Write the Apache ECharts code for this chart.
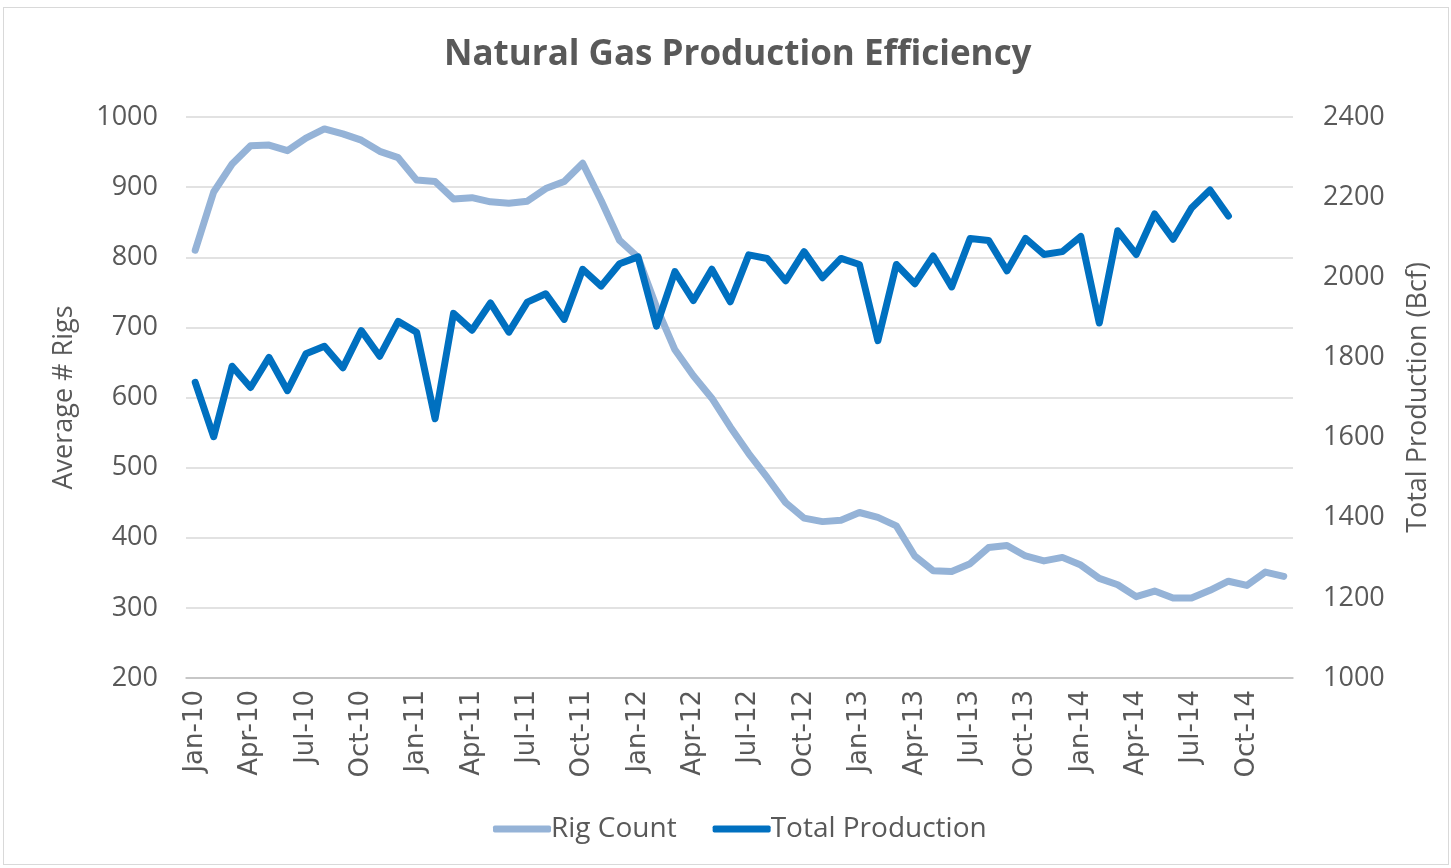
<!DOCTYPE html>
<html>
<head>
<meta charset="utf-8">
<title>Natural Gas Production Efficiency</title>
<script src="https://cdn.jsdelivr.net/npm/echarts@6/dist/echarts.min.js"></script>
<style>
  html, body { margin: 0; padding: 0; background: #fff; }
  #main { position: absolute; left: 3px; top: 7px; width: 1446px; height: 858px; border: 1px solid #d9d9d9; box-sizing: border-box; }
</style>
</head>
<body>
<div id="main"></div>
<script>
// months Jan-10 .. Dec-14
const months = []
const monthNames = ['Jan', 'Feb', 'Mar', 'Apr', 'May', 'Jun', 'Jul', 'Aug', 'Sep', 'Oct', 'Nov', 'Dec']
for (let y = 10; y <= 14; y++) {
  for (let m = 0; m < 12; m++) {
    months.push(monthNames[m] + '-' + y)
  }
}

const rigCount = [
  810, 893, 933, 959, 960, 952, 970, 983, 976, 967, 951, 942,
  910, 908, 883, 885, 879, 877, 880, 898, 908, 934, 881, 824,
  800, 729, 668, 631, 599, 558, 520, 486, 450, 428, 423, 425,
  436, 429, 417, 374, 353, 352, 363, 386, 389, 374, 367, 372,
  361, 342, 333, 316, 324, 314, 314, 325, 338, 332, 351, 345
]

const totalProduction = [
  1738, 1602, 1778, 1725, 1800, 1717, 1809, 1828, 1774, 1867, 1803, 1890,
  1863, 1647, 1910, 1868, 1936, 1863, 1938, 1959, 1895, 2020, 1978, 2034,
  2051, 1878, 2014, 1942, 2020, 1939, 2056, 2047, 1991, 2064, 1999, 2047,
  2032, 1842, 2032, 1984, 2053, 1976, 2097, 2092, 2016, 2097, 2057, 2064,
  2102, 1886, 2116, 2057, 2158, 2095, 2173, 2218, 2153
]

const textColor = '#595959'
const font = '"Open Sans", sans-serif'

const chart = echarts.init(document.getElementById('main'))

chart.setOption({
  animation: false,
  title: {
    text: 'Natural Gas Production Efficiency',
    left: 435,
    top: 25,
    textStyle: { color: textColor, fontSize: 35, fontWeight: 'bold', fontFamily: font }
  },
  legend: {
    bottom: 16,
    left: 484,
    itemWidth: 58,
    itemHeight: 7,
    itemGap: 36,
    icon: 'roundRect',
    textStyle: { color: textColor, fontSize: 28, fontFamily: font, padding: [0, 0, 0, -5] },
    data: ['Rig Count', 'Total Production']
  },
  grid: { left: 182, right: 155, top: 109, bottom: 186 },
  xAxis: {
    type: 'category',
    data: months,
    boundaryGap: true,
    axisLine: { lineStyle: { color: '#bfbfbf', width: 1.5 } },
    axisTick: { interval: 2, length: 9, lineStyle: { color: '#bfbfbf', width: 1.5 } },
    axisLabel: { interval: 2, rotate: 90, color: textColor, fontSize: 26, fontFamily: '"DejaVu Sans", sans-serif', margin: 12 }
  },
  yAxis: [{
    type: 'value',
    min: 200,
    max: 1000,
    interval: 100,
    name: 'Average # Rigs',
    nameLocation: 'middle',
    nameGap: 108,
    nameTextStyle: { color: textColor, fontSize: 27, fontFamily: font },
    axisLine: { show: false },
    axisTick: { show: false },
    axisLabel: { color: textColor, fontSize: 27, fontFamily: font, margin: 28, formatter: v => String(v) },
    splitLine: { lineStyle: { color: '#d9d9d9', width: 1.5 } }
  }, {
    type: 'value',
    min: 1000,
    max: 2400,
    interval: 200,
    name: 'Total Production (Bcf)',
    nameLocation: 'middle',
    nameGap: 112,
    nameRotate: 90,
    nameTextStyle: { color: textColor, fontSize: 27, fontFamily: font },
    axisLine: { show: false },
    axisTick: { show: false },
    axisLabel: { color: textColor, fontSize: 27, fontFamily: font, margin: 30, formatter: v => String(v) },
    splitLine: { show: false }
  }],
  series: [{
    name: 'Rig Count',
    type: 'line',
    yAxisIndex: 0,
    data: rigCount,
    symbol: 'none',
    itemStyle: { color: '#95b3d7' },
    lineStyle: { color: '#95b3d7', width: 7, cap: 'round', join: 'round' }
  }, {
    name: 'Total Production',
    type: 'line',
    yAxisIndex: 1,
    data: totalProduction,
    symbol: 'none',
    itemStyle: { color: '#0070c0' },
    lineStyle: { color: '#0070c0', width: 7, cap: 'round', join: 'round' }
  }]
})
</script>
</body>
</html>
